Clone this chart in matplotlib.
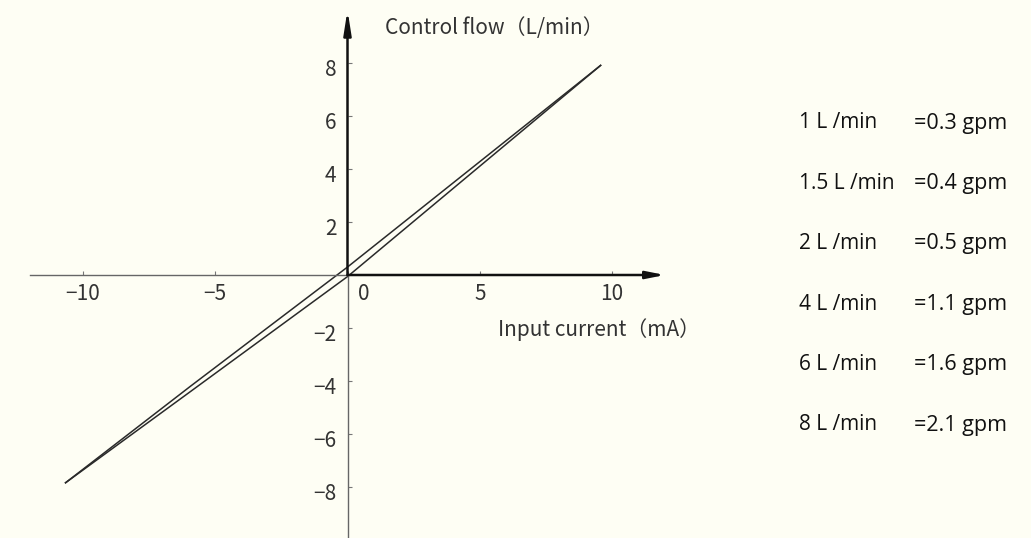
import matplotlib
matplotlib.use("Agg")
import matplotlib.pyplot as plt

# hysteresis curve: rising and falling branches (L/min vs mA)
upper_x = [-10.66, -5.94, 0.0, 9.57]
upper_y = [-7.84, -4.20, 0.30, 7.91]
lower_x = [-10.66, -5.94, 0.0, 3.89, 9.57]
lower_y = [-7.84, -4.40, -0.06, 3.18, 7.91]

x_ticks = [-10, -5, 0, 5, 10]
y_ticks = [-8, -6, -4, -2, 2, 4, 6, 8]

flow_labels = ["1 L /min", "1.5 L /min", "2 L /min", "4 L /min", "6 L /min", "8 L /min"]
gpm_labels = ["=0.3 gpm", "=0.4 gpm", "=0.5 gpm", "=1.1 gpm", "=1.6 gpm", "=2.1 gpm"]

bg = "#fefef4"
axis_font = ["Noto Sans CJK SC", "DejaVu Sans"]
table_font = ["Open Sans", "DejaVu Sans"]

fig = plt.figure(figsize=(10.31, 5.38), dpi=100, facecolor=bg)
ax = fig.add_axes([0, 0, 1, 1])
ax.set_facecolor(bg)

# pixel -> data: x = (px - 347.5) / 26.45, y = (275 - py) / 26.5
ax.set_xlim(-347.5 / 26.45, (1031 - 347.5) / 26.45)
ax.set_ylim((275 - 538) / 26.5, 275 / 26.5)

for side in ["top", "right"]:
    ax.spines[side].set_visible(False)
ax.spines["left"].set_position(("data", 0))
ax.spines["bottom"].set_position(("data", 0))
ax.spines["left"].set_color("#666666")
ax.spines["bottom"].set_color("#666666")
ax.spines["bottom"].set_bounds(-12.0, 0)
ax.spines["left"].set_bounds(-10.5, 0)
ax.spines["left"].set_linewidth(1.0)
ax.spines["bottom"].set_linewidth(1.0)

ax.set_xticks(x_ticks)
ax.set_yticks(y_ticks)
ax.tick_params(axis="both", direction="in", length=3, width=0.8, color="#777777",
               labelbottom=False, labelleft=False)

# positive halves of the axes, black with arrow heads
ax.annotate("", xy=(12.0, 0), xytext=(0, 0),
            arrowprops=dict(arrowstyle="-|>,head_length=1.1,head_width=0.22",
                            color="#111111", lw=1.8, shrinkA=0, shrinkB=0))
ax.annotate("", xy=(0, 10.0), xytext=(0, 0),
            arrowprops=dict(arrowstyle="-|>,head_length=1.4,head_width=0.22",
                            color="#111111", lw=1.8, shrinkA=0, shrinkB=0))

ax.plot(upper_x, upper_y, color="#2a2a2a", lw=1.1)
ax.plot(lower_x, lower_y, color="#2a2a2a", lw=1.1)

# tick labels
for t in x_ticks:
    dx = 0.6 if t == 0 else 0
    ax.text(t + dx, -0.72, f"{t}".replace("-", "\u2212"), ha="center", va="center",
            fontsize=15, family=axis_font, color="#333333")
for t in y_ticks:
    ax.text(-0.42, t - 0.25, f"{t}".replace("-", "\u2212"), ha="right", va="center",
            fontsize=15, family=axis_font, color="#333333")

ax.text(1.42, 9.33, "Control flow（L/min）", ha="left", va="center",
        fontsize=15, family=axis_font, color="#333333")
ax.text(5.7, -2.05, "Input current（mA）", ha="left", va="center",
        fontsize=15, family=axis_font, color="#333333")

# conversion table on the right
for i, (a, b) in enumerate(zip(flow_labels, gpm_labels)):
    y = (275 - (123 + 60.4 * i)) / 26.5
    ax.text((799 - 347.5) / 26.45, y, a, ha="left", va="center",
            fontsize=15, family=table_font, color="#111111")
    ax.text((914 - 347.5) / 26.45, y, b, ha="left", va="center",
            fontsize=15.5, family=table_font, color="#111111")

fig.savefig("out.png", dpi=100, facecolor=bg)
